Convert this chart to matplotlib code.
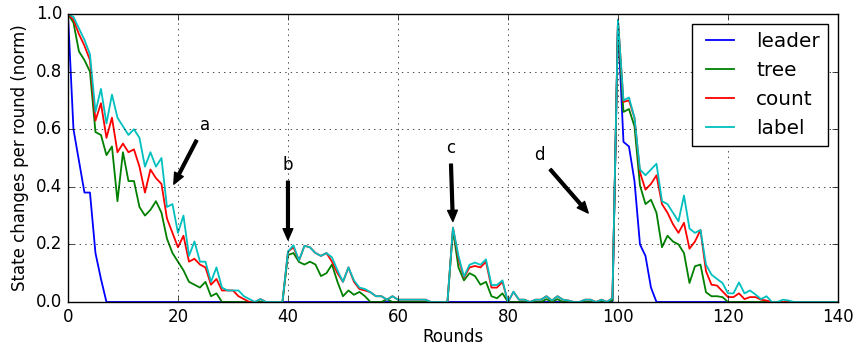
import numpy as np
import matplotlib
matplotlib.use('Agg')
import matplotlib.pyplot as plt

plt.style.use('classic')

# state changes per round, normalised; rounds 0..140
leader = [1.0, 0.6, 0.49, 0.38, 0.38, 0.17, 0.08, 0.0, 0.0, 0.0,
          0.0, 0.0, 0.0, 0.0, 0.0, 0.0, 0.0, 0.0, 0.0, 0.0,
          0.0, 0.0, 0.0, 0.0, 0.0, 0.0, 0.0, 0.0, 0.0, 0.0,
          0.0, 0.0, 0.0, 0.0, 0.0, 0.0, 0.0, 0.0, 0.0, 0.0,
          0.0, 0.0, 0.0, 0.0, 0.0, 0.0, 0.0, 0.0, 0.0, 0.0,
          0.0, 0.0, 0.0, 0.0, 0.0, 0.0, 0.0, 0.0, 0.0, 0.0,
          0.0, 0.0, 0.0, 0.0, 0.0, 0.0, 0.0, 0.0, 0.0, 0.0,
          0.0, 0.0, 0.0, 0.0, 0.0, 0.0, 0.0, 0.0, 0.0, 0.0,
          0.0, 0.0, 0.0, 0.0, 0.0, 0.0, 0.0, 0.0, 0.0, 0.0,
          0.0, 0.0, 0.0, 0.0, 0.0, 0.0, 0.0, 0.0, 0.0, 0.0,
          0.97, 0.556, 0.54, 0.42, 0.20, 0.16, 0.05, 0.0, 0.0, 0.0,
          0.0, 0.0, 0.0, 0.0, 0.0, 0.0, 0.0, 0.0, 0.0, 0.0,
          0.0, 0.0, 0.0, 0.0, 0.0, 0.0, 0.0, 0.0, 0.0, 0.0,
          0.0, 0.0, 0.0, 0.0, 0.0, 0.0, 0.0, 0.0, 0.0, 0.0,
          0.0]

tree = [1.0, 0.97, 0.87, 0.84, 0.80, 0.59, 0.58, 0.51, 0.54, 0.35,
        0.52, 0.42, 0.42, 0.33, 0.30, 0.32, 0.35, 0.31, 0.22, 0.17,
        0.14, 0.11, 0.07, 0.06, 0.05, 0.07, 0.02, 0.03, 0.0, 0.0,
        0.0, 0.0, 0.0, 0.0, 0.0, 0.0, 0.0, 0.0, 0.0, 0.0,
        0.163, 0.17, 0.139, 0.13, 0.14, 0.13, 0.09, 0.10, 0.13, 0.07,
        0.02, 0.04, 0.025, 0.035, 0.02, 0.0, 0.0, 0.0, 0.01, 0.0,
        0.0, 0.0, 0.0, 0.0, 0.0, 0.0, 0.0, 0.0, 0.0, 0.0,
        0.25, 0.12, 0.075, 0.10, 0.09, 0.06, 0.07, 0.02, 0.013, 0.03,
        0.0, 0.0, 0.0, 0.0, 0.0, 0.0, 0.0, 0.01, 0.0, 0.01,
        0.0, 0.0, 0.0, 0.0, 0.0, 0.0, 0.0, 0.0, 0.0, 0.005,
        0.97, 0.66, 0.67, 0.61, 0.405, 0.34, 0.355, 0.31, 0.19, 0.23,
        0.21, 0.20, 0.17, 0.066, 0.124, 0.13, 0.034, 0.02, 0.02, 0.017,
        0.0, 0.0, 0.0, 0.0, 0.0, 0.0, 0.0, 0.0, 0.0, 0.0,
        0.0, 0.0, 0.0, 0.0, 0.0, 0.0, 0.0, 0.0, 0.0, 0.0,
        0.0]

count = [1.0, 0.98, 0.93, 0.89, 0.84, 0.63, 0.69, 0.57, 0.64, 0.52,
         0.55, 0.52, 0.53, 0.47, 0.38, 0.46, 0.43, 0.41, 0.29, 0.24,
         0.19, 0.23, 0.14, 0.15, 0.13, 0.12, 0.06, 0.08, 0.04, 0.04,
         0.04, 0.02, 0.01, 0.0, 0.0, 0.01, 0.0, 0.0, 0.0, 0.0,
         0.175, 0.19, 0.144, 0.195, 0.19, 0.17, 0.16, 0.17, 0.14, 0.10,
         0.07, 0.12, 0.07, 0.045, 0.04, 0.034, 0.02, 0.02, 0.008, 0.02,
         0.008, 0.008, 0.008, 0.008, 0.008, 0.008, 0.0, 0.0, 0.0, 0.0,
         0.258, 0.15, 0.085, 0.12, 0.125, 0.12, 0.14, 0.05, 0.05, 0.07,
         0.0, 0.035, 0.008, 0.008, 0.0, 0.008, 0.008, 0.02, 0.005, 0.02,
         0.008, 0.005, 0.0, 0.0, 0.008, 0.008, 0.0, 0.008, 0.0, 0.014,
         0.98, 0.695, 0.70, 0.64, 0.45, 0.39, 0.41, 0.44, 0.34, 0.31,
         0.27, 0.24, 0.275, 0.185, 0.21, 0.25, 0.107, 0.06, 0.057, 0.037,
         0.017, 0.017, 0.03, 0.01, 0.017, 0.017, 0.008, 0.005, 0.0, 0.0,
         0.0, 0.0, 0.0, 0.0, 0.0, 0.0, 0.0, 0.0, 0.0, 0.0,
         0.0]

label = [1.0, 0.99, 0.95, 0.91, 0.86, 0.66, 0.74, 0.62, 0.72, 0.64,
         0.61, 0.58, 0.60, 0.57, 0.47, 0.52, 0.47, 0.50, 0.33, 0.34,
         0.24, 0.30, 0.16, 0.21, 0.14, 0.14, 0.07, 0.12, 0.05, 0.04,
         0.04, 0.04, 0.02, 0.01, 0.0, 0.01, 0.0, 0.0, 0.0, 0.0,
         0.175, 0.197, 0.144, 0.195, 0.19, 0.17, 0.16, 0.17, 0.155, 0.11,
         0.07, 0.12, 0.075, 0.05, 0.045, 0.034, 0.02, 0.02, 0.008, 0.02,
         0.008, 0.008, 0.008, 0.008, 0.008, 0.008, 0.0, 0.0, 0.0, 0.0,
         0.258, 0.16, 0.088, 0.129, 0.137, 0.129, 0.148, 0.059, 0.059, 0.075,
         0.0, 0.036, 0.008, 0.008, 0.0, 0.008, 0.008, 0.02, 0.005, 0.02,
         0.008, 0.005, 0.0, 0.0, 0.008, 0.008, 0.0, 0.008, 0.0, 0.014,
         0.98, 0.70, 0.71, 0.64, 0.46, 0.44, 0.46, 0.48, 0.35, 0.34,
         0.31, 0.28, 0.37, 0.255, 0.24, 0.25, 0.13, 0.095, 0.08, 0.066,
         0.03, 0.03, 0.068, 0.03, 0.04, 0.026, 0.01, 0.02, 0.0, 0.0,
         0.008, 0.005, 0.0, 0.0, 0.0, 0.0, 0.0, 0.0, 0.0, 0.0,
         0.0]

rounds = np.arange(len(leader))

# annotations: (text, arrow target, text position)
notes = [('a', (19, 0.40), (24.85, 0.613)),
         ('b', (40, 0.204), (40.0, 0.474)),
         ('c', (70, 0.268), (69.6, 0.533)),
         ('d', (95, 0.30), (85.8, 0.512))]

fig = plt.figure(figsize=(8.57, 3.46), dpi=100)
ax = fig.add_axes([0.0793, 0.1272, 0.8985, 0.8323])

lw = 1.3
ax.plot(rounds, leader, 'b', lw=lw, label='leader')
ax.plot(rounds, tree, 'g', lw=lw, label='tree')
ax.plot(rounds, count, 'r', lw=lw, label='count')
ax.plot(rounds, label, 'c', lw=lw, label='label')

for txt, xy, xytext in notes:
    ax.annotate(txt, xy=xy, xytext=xytext, ha='center', va='center',
                fontsize=12,
                arrowprops=dict(facecolor='black', shrink=0.05, width=2,
                                headwidth=7, headlength=8))

ax.set_xlim(0, 140)
ax.set_ylim(0, 1.0)
ax.set_xlabel('Rounds', labelpad=2)
ax.set_ylabel('State changes per round (norm)')
ax.grid(True)
ax.legend(loc='upper right')

fig.savefig('out.png', dpi=100, facecolor='white')
